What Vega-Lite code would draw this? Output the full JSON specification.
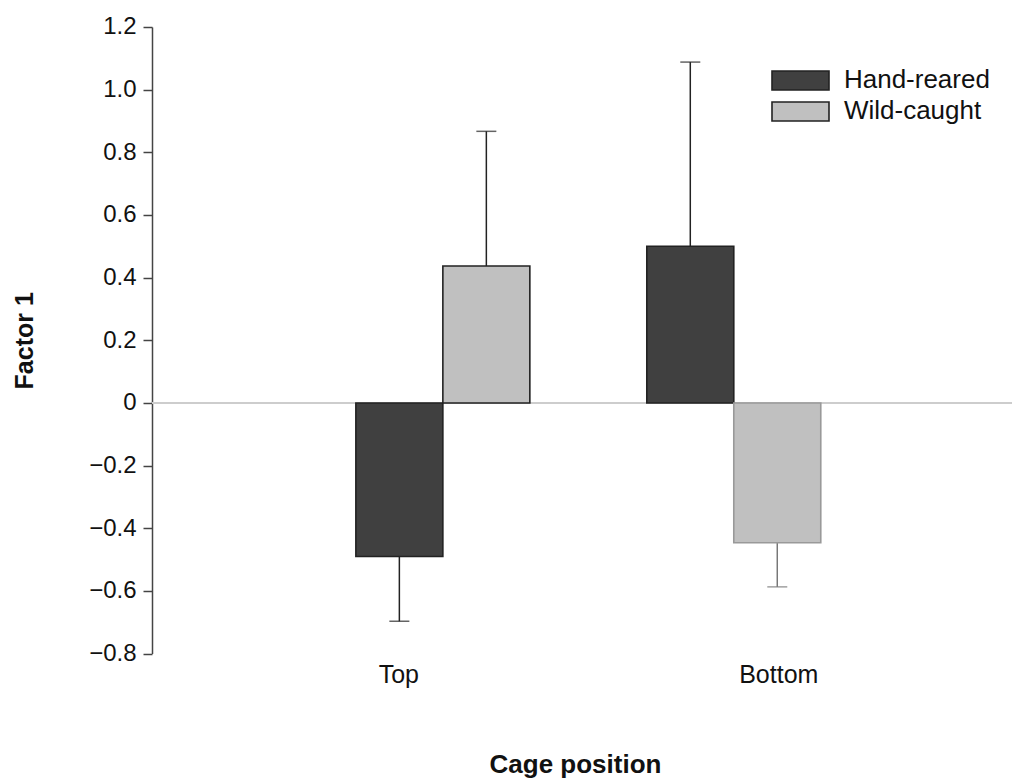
{
  "$schema": "https://vega.github.io/schema/vega-lite/v6.json",
  "width": 860,
  "height": 626.6,
  "autosize": {"type": "none"},
  "padding": {"left": 152, "top": 27, "right": 0, "bottom": 126},
  "background": "white",
  "config": {
    "view": {"stroke": null},
    "font": "Liberation Sans",
    "axis": {"labelFont": "Liberation Sans", "titleFont": "Liberation Sans", "labelColor": "#111", "titleColor": "#111"},
    "legend": {"labelFont": "Liberation Sans"}
  },
  "data": {
    "values": [
      {"position": "Top", "group": "Hand-reared", "mean": -0.49, "err": -0.697},
      {"position": "Top", "group": "Wild-caught", "mean": 0.437, "err": 0.867},
      {"position": "Bottom", "group": "Hand-reared", "mean": 0.5, "err": 1.088},
      {"position": "Bottom", "group": "Wild-caught", "mean": -0.446, "err": -0.587}
    ]
  },
  "encoding": {
    "x": {
      "field": "position",
      "type": "nominal",
      "sort": ["Top", "Bottom"],
      "scale": {"paddingInner": 0.402, "paddingOuter": 0.679, "align": 0.516},
      "axis": {
        "title": "Cage position",
        "titleFontSize": 26,
        "titleFontWeight": "bold",
        "titlePadding": 64,
        "titleX": 423,
        "labelFontSize": 25,
        "labelAngle": 0,
        "labelPadding": 9,
        "labelOffset": {"condition": {"test": "datum.value === 'Top'", "value": -44}, "value": 45},
        "domain": false,
        "ticks": false
      }
    },
    "xOffset": {"field": "group", "type": "nominal", "sort": ["Hand-reared", "Wild-caught"], "scale": {"paddingInner": 0, "paddingOuter": 0}}
  },
  "layer": [
    {
      "mark": {"type": "rule", "color": "#cccccc", "strokeWidth": 1.5},
      "encoding": {"x": null, "xOffset": null, "y": {"datum": 0, "type": "quantitative"}}
    },
    {
      "mark": {"type": "rule", "strokeWidth": 1.5},
      "encoding": {
        "y": {"field": "mean", "type": "quantitative"},
        "y2": {"field": "err"},
        "color": {
          "condition": {"test": "datum.position === 'Bottom' && datum.group === 'Wild-caught'", "value": "#777777"},
          "value": "#222222"
        }
      }
    },
    {
      "mark": {"type": "tick", "orient": "horizontal", "size": 20, "thickness": 1.5},
      "encoding": {
        "y": {"field": "err", "type": "quantitative"},
        "color": {
          "condition": {"test": "datum.position === 'Bottom' && datum.group === 'Wild-caught'", "value": "#777777"},
          "value": "#222222"
        }
      }
    },
    {
      "mark": {"type": "bar", "strokeWidth": 1.6},
      "encoding": {
        "y": {
          "field": "mean",
          "type": "quantitative",
          "scale": {"domain": [-0.8, 1.2], "nice": false, "zero": false},
          "axis": {
            "title": "Factor 1",
            "titleFontSize": 25,
            "titleFontWeight": "bold",
            "titlePadding": 51,
            "labelFontSize": 24,
            "labelPadding": 7,
            "values": [-0.8, -0.6, -0.4, -0.2, 0, 0.2, 0.4, 0.6, 0.8, 1.0, 1.2],
            "labelExpr": "datum.value === 0 ? '0' : format(datum.value, '.1f')",
            "domainColor": "#444444",
            "domainWidth": 1.5,
            "tickColor": "#444444",
            "tickWidth": 1.5,
            "tickSize": 9,
            "grid": false
          }
        },
        "y2": {"datum": 0},
        "fill": {
          "field": "group",
          "type": "nominal",
          "sort": ["Hand-reared", "Wild-caught"],
          "scale": {"domain": ["Hand-reared", "Wild-caught"], "range": ["#404040", "#c0c0c0"]},
          "legend": {
            "title": null,
            "orient": "none",
            "legendX": 635.5,
            "legendY": 40.5,
            "padding": 0,
            "symbolType": "M-3,-1H3V1H-3Z",
            "symbolSize": 361,
            "symbolStrokeColor": "#222222",
            "symbolStrokeWidth": 1.6,
            "symbolOpacity": 1,
            "labelFontSize": 26,
            "labelColor": "#111",
            "labelOffset": 30.5,
            "rowPadding": 5
          }
        },
        "stroke": {
          "condition": {"test": "datum.position === 'Bottom' && datum.group === 'Wild-caught'", "value": "#999999"},
          "value": "#222222"
        }
      }
    }
  ]
}
